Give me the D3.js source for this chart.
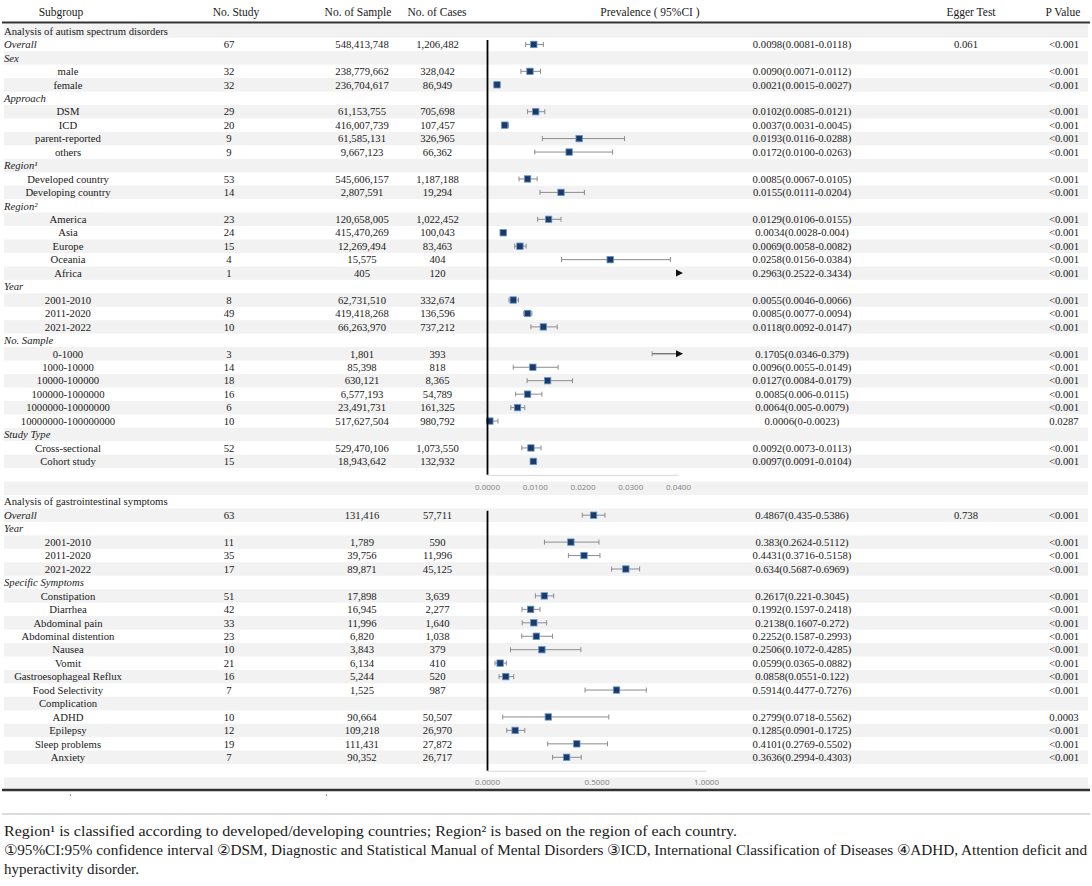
<!DOCTYPE html>
<html>
<head>
<meta charset="utf-8">
<script src="https://cdn.jsdelivr.net/npm/d3@7"></script>
<style>
  body { margin:0; background:#fff; }
  svg text { font-family:"Liberation Serif","Times New Roman",serif; fill:#1a1a1a; }
  svg .tick text { font-family:"Open Sans","Liberation Sans",sans-serif; fill:#808080; }
</style>
</head>
<body>
<svg id="chart" width="1092" height="886"></svg>
<script>
/* Forest table: prevalence of ASD and GI symptoms */

const HEADERS   = ['Subgroup','No. Study','No. of Sample','No. of Cases','Prevalence ( 95%CI )','Egger Test','P Value'];

// kind: o = overall, c = italic heading, s = subgroup, n = plain heading
const ASD_TITLE = 'Analysis of autism spectrum disorders';
const asdLabel  = ['Overall','Sex','male','female','Approach','DSM','ICD','parent-reported','others',
  'Region¹','Developed country','Developing country','Region²','America','Asia','Europe','Oceania','Africa',
  'Year','2001-2010','2011-2020','2021-2022','No. Sample','0-1000','1000-10000','10000-100000',
  '100000-1000000','1000000-10000000','10000000-100000000','Study Type','Cross-sectional','Cohort study'];
const asdKind   = ['o','c','s','s','c','s','s','s','s','c','s','s','c','s','s','s','s','s',
  'c','s','s','s','c','s','s','s','s','s','s','c','s','s'];
const asdStudy  = ['67','','32','32','','29','20','9','9','','53','14','','23','24','15','4','1',
  '','8','49','10','','3','14','18','16','6','10','','52','15'];
const asdSample = ['548,413,748','','238,779,662','236,704,617','','61,153,755','416,007,739','61,585,131','9,667,123',
  '','545,606,157','2,807,591','','120,658,005','415,470,269','12,269,494','15,575','405',
  '','62,731,510','419,418,268','66,263,970','','1,801','85,398','630,121','6,577,193','23,491,731','517,627,504',
  '','529,470,106','18,943,642'];
const asdCases  = ['1,206,482','','328,042','86,949','','705,698','107,457','326,965','66,362',
  '','1,187,188','19,294','','1,022,452','100,043','83,463','404','120',
  '','332,674','136,596','737,212','','393','818','8,365','54,789','161,325','980,792',
  '','1,073,550','132,932'];
const asdEst    = ['0.0098','','0.0090','0.0021','','0.0102','0.0037','0.0193','0.0172','','0.0085','0.0155',
  '','0.0129','0.0034','0.0069','0.0258','0.2963','','0.0055','0.0085','0.0118',
  '','0.1705','0.0096','0.0127','0.0085','0.0064','0.0006','','0.0092','0.0097'];
const asdLow    = ['0.0081','','0.0071','0.0015','','0.0085','0.0031','0.0116','0.0100','','0.0067','0.0111',
  '','0.0106','0.0028','0.0058','0.0156','0.2522','','0.0046','0.0077','0.0092',
  '','0.0346','0.0055','0.0084','0.006','0.005','0','','0.0073','0.0091'];
const asdHigh   = ['0.0118','','0.0112','0.0027','','0.0121','0.0045','0.0288','0.0263','','0.0105','0.0204',
  '','0.0155','0.004','0.0082','0.0384','0.3434','','0.0066','0.0094','0.0147',
  '','0.379','0.0149','0.0179','0.0115','0.0079','0.0023','','0.0113','0.0104'];
const asdEgger  = ['0.061'];
const asdP      = ['<0.001','','<0.001','<0.001','','<0.001','<0.001','<0.001','<0.001','','<0.001','<0.001',
  '','<0.001','<0.001','<0.001','<0.001','<0.001','','<0.001','<0.001','<0.001',
  '','<0.001','<0.001','<0.001','<0.001','<0.001','0.0287','','<0.001','<0.001'];
const asdTicks  = [0, 0.01, 0.02, 0.03, 0.04];

const GI_TITLE  = 'Analysis of gastrointestinal symptoms';
const giLabel   = ['Overall','Year','2001-2010','2011-2020','2021-2022','Specific Symptoms','Constipation','Diarrhea',
  'Abdominal pain','Abdominal distention','Nausea','Vomit','Gastroesophageal Reflux','Food Selectivity',
  'Complication','ADHD','Epilepsy','Sleep problems','Anxiety'];
const giKind    = ['o','c','s','s','s','c','s','s','s','s','s','s','s','s','n','s','s','s','s'];
const giStudy   = ['63','','11','35','17','','51','42','33','23','10','21','16','7','','10','12','19','7'];
const giSample  = ['131,416','','1,789','39,756','89,871','','17,898','16,945','11,996','6,820','3,843','6,134',
  '5,244','1,525','','90,664','109,218','111,431','90,352'];
const giCases   = ['57,711','','590','11,996','45,125','','3,639','2,277','1,640','1,038','379','410',
  '520','987','','50,507','26,970','27,872','26,717'];
const giEst     = ['0.4867','','0.383','0.4431','0.634','','0.2617','0.1992','0.2138','0.2252','0.2506','0.0599',
  '0.0858','0.5914','','0.2799','0.1285','0.4101','0.3636'];
const giLow     = ['0.435','','0.2624','0.3716','0.5687','','0.221','0.1597','0.1607','0.1587','0.1072','0.0365',
  '0.0551','0.4477','','0.0718','0.0901','0.2769','0.2994'];
const giHigh    = ['0.5386','','0.5112','0.5158','0.6969','','0.3045','0.2418','0.272','0.2993','0.4285','0.0882',
  '0.122','0.7276','','0.5562','0.1725','0.5502','0.4303'];
const giEgger   = ['0.738'];
const giP       = ['<0.001','','<0.001','<0.001','<0.001','','<0.001','<0.001','<0.001','<0.001','<0.001','<0.001',
  '<0.001','<0.001','','0.0003','<0.001','<0.001','<0.001'];
const giTicks   = [0, 0.5, 1];

const NOTES = [
  'Region¹ is classified according to developed/developing countries; Region² is based on the region of each country.',
  '①95%CI:95% confidence interval ②DSM, Diagnostic and Statistical Manual of Mental Disorders ③ICD, International Classification of Diseases ④ADHD, Attention deficit and',
  'hyperactivity disorder.'
];
const NOTE_LEN = [733, 1083, null];

const W = 1092;
const ROW0 = 31, ROW_H = 13.45;
const rowY = i => ROW0 + i * ROW_H;
const COLX = {sub:68, study:229, sample:362, cases:437.5, prev:802, egger:966, p:1064};
const HEADX = [61, 236, 358, 437, 650, 971, 1063];

const sections = [
  {title:ASD_TITLE, label:asdLabel, kind:asdKind, study:asdStudy, sample:asdSample, cases:asdCases,
   est:asdEst, low:asdLow, high:asdHigh, egger:asdEgger, p:asdP, ticks:asdTicks,
   x:d3.scaleLinear().domain([0, 0.04]).range([487, 678])},
  {title:GI_TITLE, label:giLabel, kind:giKind, study:giStudy, sample:giSample, cases:giCases,
   est:giEst, low:giLow, high:giHigh, egger:giEgger, p:giP, ticks:giTicks,
   x:d3.scaleLinear().domain([0, 1]).range([487, 706])},
];

const svg = d3.select('#chart');
const totalRows = sections.reduce((s, d) => s + d.label.length + 3, 0);

// zebra bands
svg.append('g').selectAll('rect').data(d3.range(0, totalRows, 2)).join('rect')
  .attr('x', 4).attr('width', W - 8)
  .attr('y', i => rowY(i) - ROW_H / 2).attr('height', ROW_H)
  .attr('fill', '#f2f2f2');

// header
svg.append('g').selectAll('text').data(HEADERS).join('text')
  .attr('x', (d, i) => HEADX[i]).attr('y', 12).attr('dy', '0.35em')
  .attr('text-anchor', 'middle').style('font-size', '11.5px').text(d => d);
svg.append('line').attr('x1', 2).attr('x2', W - 2).attr('y1', 22.5).attr('y2', 22.5)
  .attr('stroke', '#333').attr('stroke-width', 2.2);

function txt(g, x, y, s, anchor, italic) {
  return g.append('text').attr('x', x).attr('y', y).attr('dy', '0.35em')
    .attr('text-anchor', anchor).style('font-size', '10.7px')
    .style('font-style', italic ? 'italic' : null).text(s);
}

let start = 0;
sections.forEach(sec => {
  const g = svg.append('g');
  const x = sec.x;
  const [x0, x1] = x.range();
  const maxV = x.domain()[1];
  const n = sec.label.length;

  txt(g, 4, rowY(start), sec.title, 'start', false);

  sec.label.forEach((lab, k) => {
    const y = rowY(start + 1 + k);
    const kind = sec.kind[k];
    if (kind === 'o' || kind === 'c') txt(g, 4, y, lab, 'start', true);
    else txt(g, COLX.sub, y, lab, 'middle', false);
    if (sec.study[k]) txt(g, COLX.study, y, sec.study[k], 'middle');
    if (sec.sample[k]) txt(g, COLX.sample, y, sec.sample[k], 'middle');
    if (sec.cases[k]) txt(g, COLX.cases, y, sec.cases[k], 'middle');
    if (sec.egger[k]) txt(g, COLX.egger, y, sec.egger[k], 'middle');
    if (sec.p[k]) txt(g, COLX.p, y, sec.p[k], 'middle');
    if (!sec.est[k]) return;

    txt(g, COLX.prev, y, `${sec.est[k]}(${sec.low[k]}-${sec.high[k]})`, 'middle');

    const e = +sec.est[k], lo = +sec.low[k], hi = +sec.high[k];
    const cut = hi > maxV;
    if (lo < maxV) {
      const xl = x(lo), xh = cut ? x1 : x(hi);
      g.append('line').attr('x1', xl).attr('x2', xh).attr('y1', y).attr('y2', y)
        .attr('stroke', cut ? '#444' : '#8c8c8c').attr('stroke-width', 1);
      g.append('line').attr('x1', xl).attr('x2', xl).attr('y1', y - 2.5).attr('y2', y + 2.5)
        .attr('stroke', '#8c8c8c');
      if (!cut) g.append('line').attr('x1', xh).attr('x2', xh).attr('y1', y - 2.5).attr('y2', y + 2.5)
        .attr('stroke', '#8c8c8c');
    }
    if (cut) {
      g.append('path').attr('d', `M${x1 - 2},${y - 3.5}L${x1 + 5},${y}L${x1 - 2},${y + 3.5}Z`)
        .attr('fill', '#111');
    }
    if (e <= maxV) {
      g.append('rect').attr('x', x(e) - 3.2).attr('y', y - 3.2).attr('width', 6.4).attr('height', 6.4)
        .attr('fill', '#1f3864').attr('stroke', '#5b9bd5').attr('stroke-width', 0.8);
    }
  });

  const blank = start + n + 1;
  // zero line
  g.append('line').attr('x1', x0 + 0.5).attr('x2', x0 + 0.5)
    .attr('y1', rowY(start + 1) - 4.5).attr('y2', rowY(blank))
    .attr('stroke', '#000').attr('stroke-width', 1.8);

  const axis = d3.axisBottom(x).tickValues(sec.ticks).tickFormat(d3.format('.4f'))
    .tickSize(0).tickPadding(9);
  g.append('g').attr('transform', `translate(0,${rowY(blank)})`).call(axis)
    .attr('font-size', 8)
    .call(a => a.select('.domain').attr('stroke', '#d9d9d9').attr('stroke-width', 1));

  start += n + 3;
});

// bottom rules
svg.append('line').attr('x1', 2).attr('x2', W - 2).attr('y1', 790).attr('y2', 790)
  .attr('stroke', '#333').attr('stroke-width', 2.4);
svg.append('g').selectAll('rect').data([70, 326]).join('rect')
  .attr('x', d => d).attr('y', 794).attr('width', 1).attr('height', 2).attr('fill', '#999');
svg.append('line').attr('x1', 2).attr('x2', W - 2).attr('y1', 814).attr('y2', 814)
  .attr('stroke', '#d0d0d0').attr('stroke-width', 1.5);

// footnotes
const notes = svg.append('g');
NOTES.forEach((s, i) => {
  const t = notes.append('text').attr('x', 4).attr('y', 831 + i * 19).attr('dy', '0.35em')
    .style('font-size', '15px').text(s);
  if (NOTE_LEN[i]) t.attr('textLength', NOTE_LEN[i]).attr('lengthAdjust', 'spacingAndGlyphs');
});
</script>
</body>
</html>
